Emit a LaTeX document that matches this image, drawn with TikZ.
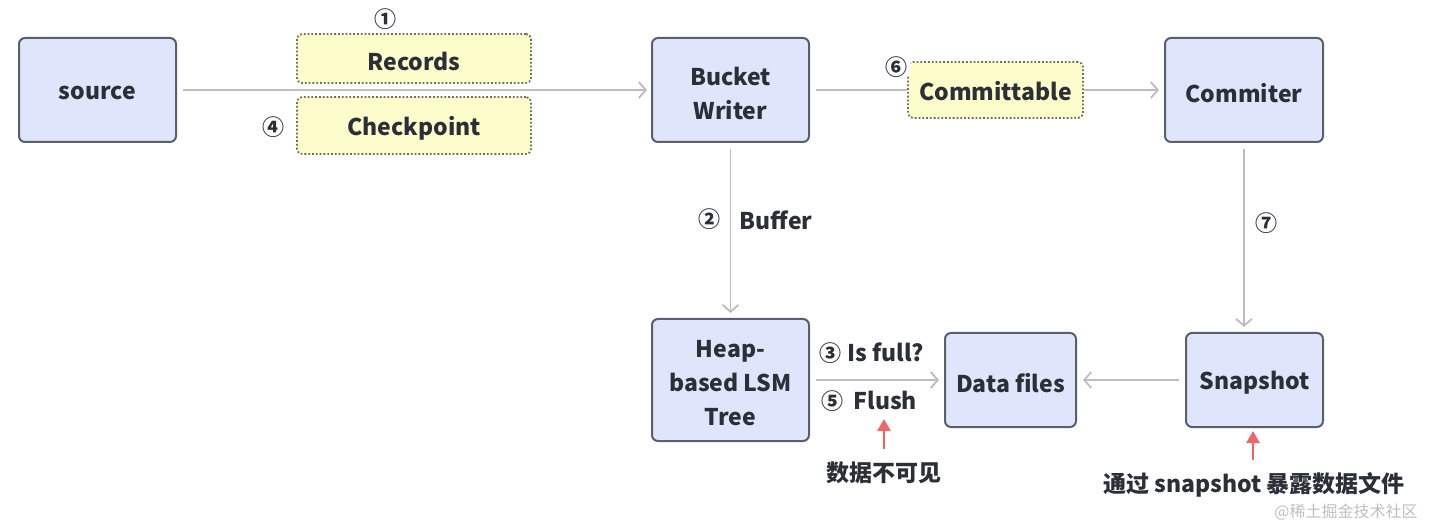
\documentclass[tikz,border=0pt]{standalone}
\usepackage{fontspec}
\setmainfont{Noto Sans CJK SC}
\usetikzlibrary{arrows.meta}
\definecolor{boxfill}{HTML}{DFE6FB}
\definecolor{boxdraw}{HTML}{5A5F6B}
\definecolor{yfill}{HTML}{FDFDCB}
\definecolor{ydraw}{HTML}{70705C}
\definecolor{conn}{HTML}{BDBDBD}
\definecolor{txt}{HTML}{2B2F38}
\definecolor{redarr}{HTML}{F06666}
\begin{document}
\begin{tikzpicture}[x=1pt,y=-1pt,
  every node/.style={text=txt,font=\fontsize{23}{34}\selectfont\bfseries},
  mainbox/.style={draw=boxdraw,fill=boxfill,line width=2pt,rounded corners=6pt,inner sep=0pt},
  notebox/.style={draw=ydraw,fill=yfill,line width=1.8pt,dotted,rounded corners=5pt,inner sep=0pt},
  intext/.style={label={[yshift=-3pt,align=center,inner sep=0pt]center:{#1}}},
  intextb/.style={label={[yshift=-1.5pt,align=center,inner sep=0pt]center:{#1}}},
  conn/.style={draw=conn,line width=1.8pt},
  arr/.style={conn,-{Straight Barb[length=7pt,width=16pt,line width=1.8pt]}},
  numlbl/.style={font=\fontsize{22}{24}\selectfont\bfseries},
  redar/.style={draw=redarr,line width=2.6pt,-{Triangle[length=12pt,width=13pt]}},
  note/.style={font=\fontsize{23}{28}\selectfont\bfseries}
]
\useasboundingbox (0,0) rectangle (1432,526);

\node[mainbox,minimum width=157pt,minimum height=104pt,intext={source}] (source) at (97.5,90) {};
\node[notebox,minimum width=234pt,minimum height=49pt,intext={Records}] (records) at (414,58.5) {};
\node[notebox,minimum width=234pt,minimum height=57pt,intext={Checkpoint}] (checkpoint) at (414,125.5) {};
\node[mainbox,minimum width=157pt,minimum height=104pt,intext={Bucket\\Writer}] (bucket) at (730.5,90) {};
\node[notebox,minimum width=175pt,minimum height=56pt,intextb={Committable}] (committable) at (995.5,90) {};
\node[mainbox,minimum width=158pt,minimum height=104pt,intext={Commiter}] (commiter) at (1244,90) {};
\node[mainbox,minimum width=157pt,minimum height=122pt,intext={Heap-\\based LSM\\Tree}] (heap) at (730.5,380) {};
\node[mainbox,minimum width=131pt,minimum height=94pt,intext={Data files}] (data) at (1010.5,380) {};
\node[mainbox,minimum width=137pt,minimum height=94pt,intext={Snapshot}] (snap) at (1254.5,380) {};

\node[numlbl] (n1) at (385,19) {①};
\node[numlbl] (n4) at (273,127) {④};
\node[numlbl,fill=white,circle,inner sep=0pt] (n6) at (896,67) {⑥};
\node[numlbl] (n2) at (709,219) {②};
\node (buffer) at (776,220) {Buffer};
\node[numlbl] (n7) at (1266,223) {⑦};
\node (isfull) at (872,353) {{\fontsize{22}{24}\selectfont ③} Is full?};
\node (flush) at (869,401) {{\fontsize{22}{24}\selectfont ⑤}\ \ Flush};

\draw[arr,shorten <=6pt,shorten >=4pt] (source.east) -- (bucket.west);
\draw[conn,shorten <=6pt] (bucket.east |- committable.west) -- (committable.west);
\draw[arr,shorten >=5pt] (committable.east) -- (commiter.west |- committable.east);
\draw[arr,shorten <=6pt,shorten >=5pt] (bucket.south) -- (heap.north);
\draw[arr,shorten <=6pt,shorten >=5pt] (heap.east) -- (data.west);
\draw[arr,shorten <=6pt,shorten >=6pt] (snap.west) -- (data.east);
\draw[arr,shorten <=6pt,shorten >=5pt] (commiter.south) -- (commiter.south |- snap.north);

\coordinate (r1s) at (884,449);
\coordinate (r1e) at (884,419);
\coordinate (r2s) at (1253,460);
\coordinate (r2e) at (1253,431);
\draw[redar] (r1s) -- (r1e);
\draw[redar] (r2s) -- (r2e);
\node[note] (inv) at (884,473) {数据不可见};
\node[note] (expose) at (1254,485) {通过 snapshot 暴露数据文件};
\node[font=\fontsize{16}{20}\selectfont,text=black!25] (wm) at (1346,512) {@稀土掘金技术社区};
\end{tikzpicture}
\end{document}
